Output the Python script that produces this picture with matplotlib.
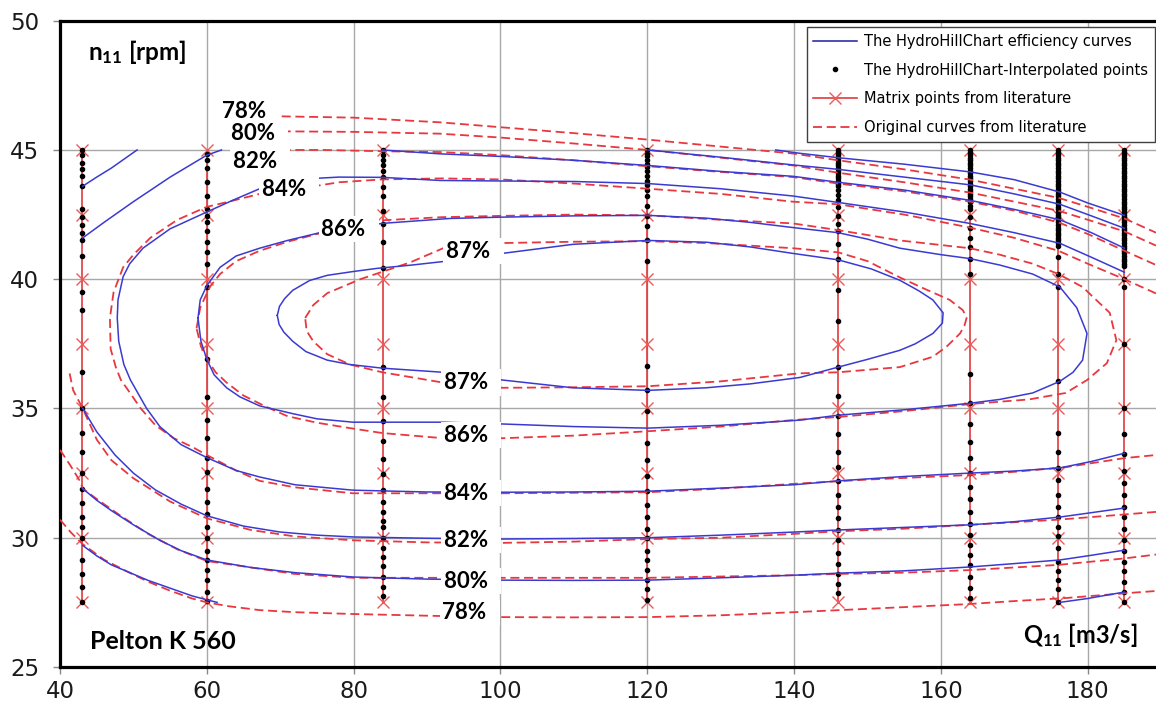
import matplotlib
matplotlib.use("Agg")
import matplotlib.pyplot as plt
from matplotlib.lines import Line2D

# matrix points from literature (Q11 columns x n11 rows)
q_cols = [43, 60, 84, 120, 146, 164, 176, 185]
n_rows = [27.5, 30, 32.5, 35, 37.5, 40, 42.5, 45]

# interpolated points of the HydroHillChart, one list per Q11 column
dots_43 = [45.0, 44.8, 44.5, 44.25, 44.0, 43.6, 42.7, 42.4, 42.1, 41.8, 41.5, 40.9, 39.5, 38.8,
           36.4, 35.0, 34.05, 33.3, 32.5, 31.9, 31.35, 30.8, 30.4, 30.0, 29.15, 28.6, 28.1, 27.5]
dots_60 = [44.85, 44.6, 44.3, 43.75, 43.2, 42.7, 42.45, 42.2, 41.85, 41.45, 41.05, 40.6, 39.7, 36.9,
           35.45, 34.55, 33.85, 33.1, 32.55, 31.9, 31.4, 30.9, 30.4, 30.0, 29.5, 29.15, 28.75, 28.35,
           27.9, 27.55]
dots_84 = [45.0, 44.8, 44.6, 44.4, 44.2, 43.95, 43.55, 43.2, 42.65, 42.15, 41.45, 40.45, 36.6, 35.45,
           34.5, 33.75, 33.05, 32.45, 31.85, 31.4, 31.0, 30.65, 30.4, 30.0, 29.6, 29.25, 28.9, 28.5,
           28.1, 27.75]
dots_120 = [45.0, 44.85, 44.75, 44.6, 44.45, 44.35, 44.2, 44.0, 43.8, 43.65, 43.45, 43.2, 42.85, 42.45,
            42.05, 41.5, 40.7, 36.65, 35.7, 34.9, 33.65, 33.0, 32.4, 31.8, 31.25, 30.8, 30.35, 30.0,
            29.5, 29.15, 28.75, 28.35, 28.0, 27.6]
dots_146 = [45.0, 44.9, 44.8, 44.7, 44.6, 44.5, 44.4, 44.3, 44.2, 44.1, 44.0, 43.9, 43.8, 43.7, 43.6,
            43.45, 43.25, 43.05, 42.8, 42.45, 42.15, 41.85, 41.35, 40.8, 39.6, 38.4, 36.6, 35.5, 34.7,
            34.0, 33.3, 32.75, 32.2, 31.65, 31.2, 30.75, 30.3, 29.9, 29.4, 29.0, 28.6, 28.2, 27.85]
dots_164 = [45.0, 44.9, 44.8, 44.7, 44.6, 44.5, 44.4, 44.3, 44.2, 44.1, 44.0, 43.9, 43.8, 43.7, 43.6,
            43.5, 43.4, 43.3, 43.2, 43.1, 43.0, 42.85, 42.7, 42.4, 42.0, 41.6, 41.25, 40.8, 40.2, 36.35,
            35.2, 34.4, 33.7, 33.1, 32.5, 31.95, 31.5, 31.0, 30.55, 30.1, 29.7, 29.35, 28.95, 28.5,
            28.05, 27.65]
dots_176 = [45.0, 44.9, 44.8, 44.7, 44.6, 44.5, 44.4, 44.3, 44.2, 44.1, 44.0, 43.9, 43.8, 43.7, 43.6,
            43.5, 43.4, 43.3, 43.2, 43.1, 43.0, 42.9, 42.8, 42.7, 42.6, 42.5, 42.4, 42.3, 42.2, 42.1,
            42.0, 41.9, 41.8, 41.7, 41.6, 41.5, 41.4, 41.3, 40.85, 40.2, 39.7, 36.05, 34.05, 33.3,
            32.7, 32.25, 31.65, 31.2, 30.8, 30.4, 30.05, 29.6, 29.05, 28.7, 28.35, 28.0, 27.5]
dots_185 = [45.0, 44.9, 44.8, 44.7, 44.6, 44.5, 44.4, 44.3, 44.2, 44.1, 44.0, 43.9, 43.8, 43.7, 43.6,
            43.5, 43.4, 43.3, 43.2, 43.1, 43.0, 42.9, 42.8, 42.7, 42.6, 42.5, 42.4, 42.3, 42.2, 42.1,
            42.0, 41.9, 41.8, 41.7, 41.6, 41.5, 41.4, 41.3, 41.2, 41.1, 41.0, 40.9, 40.8, 40.7, 40.6,
            40.5, 40.0, 39.7, 37.5, 35.0, 34.0, 33.25, 32.6, 32.1, 31.65, 31.2, 30.8, 30.35, 29.9,
            29.5, 29.05, 28.7, 28.3, 27.9, 27.5]
dots_all = [dots_43, dots_60, dots_84, dots_120, dots_146, dots_164, dots_176, dots_185]

# HydroHillChart efficiency curves (blue)
b87_x = [69.6, 69.9, 70.6, 71.7, 74.0, 76.4, 80.0, 83.2, 88.0, 92.7, 100.3, 109.9, 120.1, 128.1, 134.0,
         139.8, 146.0, 150.5, 154.4, 157.0, 158.9, 160.3, 160.2, 158.9, 156.5, 154.4, 150.0, 146.0,
         140.8, 134.0, 128.0, 120.1, 109.9, 100.3, 92.2, 83.9, 79.5, 76.4, 73.5, 71.7, 70.5, 69.85, 69.6]
b87_y = [38.6, 38.95, 39.25, 39.57, 39.95, 40.15, 40.3, 40.42, 40.55, 40.7, 41.0, 41.35, 41.5, 41.43, 41.25,
         41.0, 40.75, 40.4, 39.96, 39.55, 39.2, 38.7, 38.3, 37.9, 37.5, 37.25, 36.9, 36.6,
         36.2, 35.95, 35.8, 35.7, 35.8, 36.1, 36.4, 36.56, 36.7, 36.87, 37.2, 37.6, 37.95, 38.25, 38.6]
b86_x = [58.8, 59.1, 60.0, 61.8, 64.0, 67.2, 71.0, 75.4, 78.4, 83.9, 93.1, 100.0, 110.0, 120.1, 128.1,
         134.0, 139.8, 146.0, 150.0, 154.4, 160.0, 163.9, 168.0, 172.5, 176.2, 178.5, 179.9, 179.3,
         178.0, 176.2, 172.5, 168.0, 163.9, 155.0, 146.0, 140.8, 130.0, 120.1, 110.0, 100.3, 92.2,
         83.9, 79.9, 75.0, 71.7, 67.2, 64.5, 62.7, 61.0, 60.0, 59.2, 58.8]
b86_y = [38.5, 39.2, 39.75, 40.46, 40.9, 41.2, 41.5, 41.8, 41.95, 42.16, 42.35, 42.4, 42.45, 42.47, 42.36,
         42.2, 42.0, 41.8, 41.55, 41.2, 40.95, 40.8, 40.55, 40.2, 39.7, 38.9, 37.9, 36.87,
         36.4, 36.05, 35.6, 35.35, 35.2, 34.95, 34.74, 34.55, 34.35, 34.24, 34.3, 34.4, 34.47,
         34.47, 34.47, 34.6, 34.8, 35.1, 35.45, 35.8, 36.3, 36.9, 37.6, 38.5]
b84_x = [185.0, 180.5, 176.2, 170.0, 163.9, 155.0, 146.0, 139.8, 130.0, 120.1, 110.0, 99.9, 91.8, 83.9,
         78.0, 74.7, 70.5, 67.2, 63.5, 60.0, 55.0, 51.3, 49.5, 48.6, 47.9, 47.8, 48.0, 48.7, 49.6,
         50.4, 51.8, 53.6, 56.5, 60.0, 64.0, 67.2, 72.0, 79.9, 90.0, 100.3, 110.0, 120.1, 130.0,
         140.0, 146.0, 155.0, 163.9, 170.0, 176.2, 180.5, 185.0]
b84_y = [40.27, 40.85, 41.39, 41.8, 42.16, 42.6, 42.97, 43.22, 43.5, 43.7, 43.78, 43.8, 43.82, 43.94,
         43.95, 43.9, 43.7, 43.5, 43.05, 42.6, 41.95, 41.2, 40.6, 40.1, 39.2, 38.5, 37.6, 36.7, 36.1,
         35.7, 35.0, 34.3, 33.6, 33.1, 32.6, 32.35, 32.05, 31.84, 31.77, 31.76, 31.77, 31.8, 31.92,
         32.05, 32.2, 32.37, 32.5, 32.58, 32.7, 32.95, 33.27]
b82a_x = [43.1, 46.0, 50.0, 55.0, 60.0, 62.0]
b82a_y = [41.6, 42.2, 43.0, 43.95, 44.8, 45.0]
b82_top_x = [83.9, 91.75, 100.0, 110.0, 120.1, 130.0, 139.9, 146.0, 155.0, 164.0, 170.0, 176.2, 180.5, 185.0]
b82_top_y = [45.0, 44.85, 44.75, 44.6, 44.4, 44.17, 43.98, 43.75, 43.45, 43.05, 42.7, 42.3, 41.8, 41.2]
b82_low_x = [185.0, 180.0, 176.2, 170.0, 164.0, 155.0, 146.0, 140.0, 130.0, 120.1, 110.0, 100.0, 90.0,
             80.0, 75.0, 70.0, 65.0, 60.0, 56.5, 53.0, 50.0, 47.5, 45.0, 43.1]
b82_low_y = [31.15, 30.95, 30.8, 30.62, 30.5, 30.4, 30.3, 30.22, 30.1, 30.0, 29.97, 29.95, 29.98,
             30.03, 30.1, 30.22, 30.45, 30.85, 31.3, 31.85, 32.5, 33.2, 34.1, 35.0]
b80a_x = [43.1, 45.0, 47.0, 49.0, 50.5]
b80a_y = [43.6, 43.95, 44.3, 44.7, 45.0]
b80_top_x = [120.1, 130.0, 139.9, 146.0, 155.0, 164.0, 170.0, 176.2, 180.5, 185.0]
b80_top_y = [45.0, 44.72, 44.42, 44.25, 43.95, 43.65, 43.3, 42.9, 42.45, 41.97]
b80_low_x = [185.0, 180.0, 176.2, 170.0, 164.0, 155.0, 146.0, 140.0, 130.0, 120.1, 110.0, 100.0, 90.0,
             80.0, 72.0, 66.0, 60.0, 56.5, 53.6, 50.0, 47.0, 45.0, 43.1]
b80_low_y = [29.52, 29.3, 29.14, 29.0, 28.87, 28.72, 28.63, 28.55, 28.45, 28.36, 28.35, 28.36, 28.4,
             28.48, 28.65, 28.85, 29.14, 29.5, 29.9, 30.5, 31.05, 31.45, 31.9]
b78_top_x = [137.5, 140.8, 146.0, 155.0, 164.0, 170.0, 176.2, 180.0, 185.0]
b78_top_y = [45.0, 44.87, 44.7, 44.45, 44.15, 43.85, 43.37, 42.95, 42.47]
b78_ll_x = [43.1, 45.0, 47.0, 49.1, 52.0, 55.0, 58.0, 60.0, 61.4]
b78_ll_y = [29.7, 29.3, 28.95, 28.7, 28.35, 28.05, 27.75, 27.6, 27.5]
b78_lr_x = [176.2, 180.0, 185.0]
b78_lr_y = [27.5, 27.65, 27.9]

# original curves from literature (red dashed)
r87_x = [73.4, 74.5, 76.4, 80.9, 87.7, 92.2, 100.3, 110.0, 120.1, 128.1, 139.8, 146.0, 150.0, 154.4,
         158.0, 161.2, 163.0, 163.5, 163.2, 162.6, 160.8, 158.9, 154.4, 146.0, 140.8, 130.0, 120.1,
         110.0, 100.3, 92.2, 83.9, 79.5, 76.4, 74.5, 73.6, 73.4]
r87_y = [38.5, 39.0, 39.46, 40.0, 40.65, 41.2, 41.4, 41.45, 41.47, 41.4, 41.2, 41.04, 40.7, 40.07,
         39.6, 39.2, 38.8, 38.5, 38.2, 37.9, 37.4, 37.0, 36.6, 36.4, 36.36, 36.05, 35.86,
         35.82, 35.8, 36.0, 36.4, 36.7, 37.1, 37.6, 38.0, 38.5]
r86_x = [58.6, 59.1, 60.4, 61.8, 64.0, 67.2, 71.0, 75.7, 78.0, 83.9, 92.0, 100.0, 110.0, 120.1, 130.0,
         139.8, 146.0, 154.4, 163.9, 168.0, 172.5, 176.0, 179.3, 183.0, 183.9, 182.6, 179.9, 177.0,
         172.0, 163.9, 155.0, 146.0, 139.8, 130.0, 120.1, 110.0, 100.3, 92.2, 83.9, 79.5, 75.0,
         71.0, 68.2, 65.0, 62.7, 61.2, 60.4, 59.2, 58.6]
r86_y = [38.1, 38.9, 39.7, 40.2, 40.7, 41.1, 41.45, 41.8, 41.95, 42.28, 42.4, 42.45, 42.5, 42.47, 42.3,
         42.16, 41.9, 41.5, 41.2, 40.95, 40.6, 40.2, 39.7, 38.7, 37.64, 36.75, 36.1, 35.6,
         35.35, 35.17, 34.9, 34.67, 34.55, 34.3, 34.12, 33.95, 33.85, 33.85, 34.05, 34.24, 34.45,
         34.7, 35.05, 35.5, 36.0, 36.4, 36.75, 37.4, 38.1]
r84_x = [189.3, 185.0, 180.0, 176.0, 170.0, 163.9, 155.0, 146.0, 139.8, 130.0, 120.1, 110.0, 100.0,
         92.0, 83.9, 78.0, 74.7, 70.0, 67.2, 63.0, 60.0, 56.0, 52.3, 50.0, 48.6, 47.3, 46.8, 46.9,
         47.6, 48.3, 49.3, 51.0, 53.0, 55.5, 58.1, 60.0, 64.0, 67.2, 72.0, 79.9, 90.0, 100.3, 110.0,
         120.1, 130.0, 140.8, 150.0, 163.5, 170.0, 177.0, 185.0, 189.3]
r84_y = [39.45, 40.0, 40.6, 41.1, 41.6, 42.0, 42.5, 42.9, 43.0, 43.3, 43.5, 43.7, 43.86,
         43.9, 43.86, 43.75, 43.6, 43.45, 43.3, 43.0, 42.8, 42.3, 41.6, 40.95, 40.46, 39.5, 38.5, 37.3,
         36.6, 36.1, 35.7, 35.0, 34.35, 33.85, 33.5, 33.2, 32.6, 32.2, 31.95, 31.72, 31.72, 31.72, 31.74,
         31.76, 31.9, 32.1, 32.25, 32.42, 32.55, 32.73, 33.08, 33.2]
r82_top_x = [70.2, 76.0, 83.9, 91.75, 100.0, 110.0, 120.1, 130.0, 139.9, 146.0, 155.0, 164.0, 170.0,
             176.0, 180.0, 185.0, 189.3]
r82_top_y = [45.0, 45.0, 44.95, 44.92, 44.8, 44.6, 44.37, 44.15, 43.95, 43.7, 43.4, 43.0, 42.65,
             42.2, 41.75, 41.1, 40.55]
r82_low_x = [189.3, 185.0, 176.0, 164.0, 155.0, 146.0, 140.0, 130.0, 120.1, 110.0, 100.0, 90.0, 80.0,
             72.0, 66.0, 60.0, 55.0, 50.0, 47.0, 45.0, 43.1, 41.8, 41.2]
r82_low_y = [31.0, 30.9, 30.7, 30.5, 30.35, 30.25, 30.15, 30.0, 29.95, 29.85, 29.8, 29.82, 29.9,
             30.05, 30.3, 30.75, 31.4, 32.3, 33.0, 33.8, 35.0, 35.7, 36.5]
r80_top_x = [70.2, 80.0, 91.75, 100.0, 110.0, 120.1, 130.0, 139.9, 146.0, 155.0, 164.0, 170.0, 176.0,
             180.0, 185.0, 189.3]
r80_top_y = [45.72, 45.7, 45.63, 45.48, 45.25, 45.0, 44.7, 44.4, 44.12, 43.75, 43.35, 43.0, 42.65,
             42.3, 41.85, 41.3]
r80_low_x = [40.0, 41.4, 42.7, 43.1, 45.0, 48.0, 52.0, 56.0, 60.0, 66.0, 72.0, 80.0, 90.0, 100.0,
             110.0, 120.1, 130.0, 140.0, 146.0, 155.0, 164.0, 176.0, 185.0, 189.3]
r80_low_y = [33.4, 32.8, 32.2, 31.9, 31.5, 30.9, 30.15, 29.55, 29.1, 28.85, 28.6, 28.45, 28.45, 28.45,
             28.45, 28.45, 28.5, 28.55, 28.6, 28.65, 28.75, 28.95, 29.2, 29.35]
r78_top_x = [70.2, 80.0, 91.75, 100.0, 110.0, 120.1, 130.0, 139.9, 146.0, 155.0, 164.0, 170.0, 176.0,
             180.0, 185.0, 189.3]
r78_top_y = [46.3, 46.25, 46.07, 45.88, 45.65, 45.4, 45.13, 44.86, 44.6, 44.25, 43.85, 43.5, 43.15,
             42.8, 42.35, 41.8]
r78_low_x = [40.0, 41.5, 43.1, 46.0, 49.1, 52.0, 55.0, 58.0, 60.0, 63.0, 67.2, 72.0, 79.9, 92.2, 100.0,
             110.0, 120.1, 130.0, 140.8, 150.0, 163.5, 170.0, 177.1, 185.0, 189.3]
r78_low_y = [30.7, 30.2, 29.75, 29.15, 28.7, 28.3, 27.95, 27.65, 27.5, 27.35, 27.2, 27.12, 27.05, 26.97,
             26.93, 26.92, 26.93, 27.0, 27.13, 27.25, 27.43, 27.55, 27.67, 27.85, 27.94]

blue_curves = [(b87_x, b87_y), (b86_x, b86_y), (b84_x, b84_y), (b82a_x, b82a_y),
               (b82_top_x, b82_top_y), (b82_low_x, b82_low_y), (b80a_x, b80a_y),
               (b80_top_x, b80_top_y), (b80_low_x, b80_low_y), (b78_top_x, b78_top_y),
               (b78_ll_x, b78_ll_y), (b78_lr_x, b78_lr_y)]
red_curves = [(r87_x, r87_y), (r86_x, r86_y), (r84_x, r84_y), (r82_top_x, r82_top_y),
              (r82_low_x, r82_low_y), (r80_top_x, r80_top_y), (r80_low_x, r80_low_y),
              (r78_top_x, r78_top_y), (r78_low_x, r78_low_y)]

# efficiency labels
lbl_text = ["78%", "80%", "82%", "84%", "86%", "87%", "87%", "86%", "84%", "82%", "80%", "78%"]
lbl_x = [62.0, 63.3, 63.5, 67.5, 75.6, 92.6, 92.3, 92.3, 92.3, 92.3, 92.3, 92.1]
lbl_y = [46.47, 45.64, 44.54, 43.46, 41.93, 41.08, 36.0, 33.97, 31.73, 29.9, 28.32, 27.09]

BLUE = '#3a3ad2'
RED = '#e8383f'
RED_X = '#ec5a5a'

fig = plt.figure(figsize=(11.56, 7.07), dpi=100)
ax = fig.add_axes([60 / 1156, 1 - 667 / 707, 1 - 60 / 1156, (667 - 20.7) / 707])
ax.set_xlim(40, 189.3)
ax.set_ylim(25, 50)

# matrix columns: red vertical line with x markers
for q in q_cols:
    ax.plot([q] * len(n_rows), n_rows, color='#e03a3a', lw=1.2, marker='x', ms=8,
            mec=RED_X, mew=1.0, zorder=2)

# interpolated points
for q, d in zip(q_cols, dots_all):
    ax.plot([q] * len(d), d, ls='none', marker='o', ms=3, color='black', zorder=3)

for cx, cy in red_curves:
    ax.plot(cx, cy, color=RED, lw=1.3, ls=(0, (5, 2.6)), zorder=4)

for cx, cy in blue_curves:
    ax.plot(cx, cy, color=BLUE, lw=1.1, zorder=5)

for t, x, y in zip(lbl_text, lbl_x, lbl_y):
    ax.text(x, y, t + "  ", ha='left', va='center', fontsize=16, fontweight='bold',
            family='Lato', color='black', zorder=10,
            bbox=dict(boxstyle='square,pad=0.12', fc='white', ec='none'))

plt.rcParams['mathtext.default'] = 'regular'
ax.text(0.0255, 0.9516, "n$_{11}$ [rpm]", transform=ax.transAxes, ha='left', va='center',
        fontsize=17.5, fontweight='bold', family='Lato', zorder=10)
ax.text(0.0274, 0.040, "Pelton K 560", transform=ax.transAxes, ha='left', va='center',
        fontsize=18, fontweight='bold', family='Lato', zorder=10)
ax.text(0.9836, 0.0495, "Q$_{11}$ [m3/s]", transform=ax.transAxes, ha='right', va='center',
        fontsize=17, fontweight='bold', family='Lato', zorder=10)

# axes styling
ax.set_xticks([40, 60, 80, 100, 120, 140, 160, 180])
ax.set_yticks([25, 30, 35, 40, 45, 50])
ax.grid(True, color='#a8a8a8', lw=1.0, zorder=0)
ax.set_axisbelow(True)
for s in ['left', 'bottom', 'top']:
    ax.spines[s].set_linewidth(2.3)
    ax.spines[s].set_color('black')
ax.spines['right'].set_visible(False)
ax.tick_params(axis='both', direction='out', length=5, width=1, color='#888888',
               labelsize=16.5, labelcolor='#1a1a1a')
ax.tick_params(axis='y', pad=10)
ax.tick_params(axis='x', pad=4)
for lab in ax.get_xticklabels() + ax.get_yticklabels():
    lab.set_family('DejaVu Sans')

handles = [
    Line2D([], [], color='#1e1e9e', lw=1.1),
    Line2D([], [], ls='none', marker='o', ms=3, color='black'),
    Line2D([], [], color='#e03a3a', lw=1.2, marker='x', ms=8, mec=RED_X, mew=1.0),
    Line2D([], [], color=RED, lw=1.3, ls=(0, (5, 2.6))),
]
labels = ["The HydroHillChart efficiency curves", "The HydroHillChart-Interpolated points",
          "Matrix points from literature", "Original curves from literature"]
leg = ax.legend(handles, labels, loc='upper right', bbox_to_anchor=(0.999, 0.990),
                borderaxespad=0, frameon=True, fancybox=False, framealpha=1,
                edgecolor='#404040', prop={'family': 'DejaVu Sans', 'size': 10.5},
                handlelength=3.0, handletextpad=0.5, labelspacing=0.95, borderpad=0.45)
leg.get_frame().set_linewidth(1.0)
leg.set_zorder(20)

fig.savefig("out.png", dpi=100)
